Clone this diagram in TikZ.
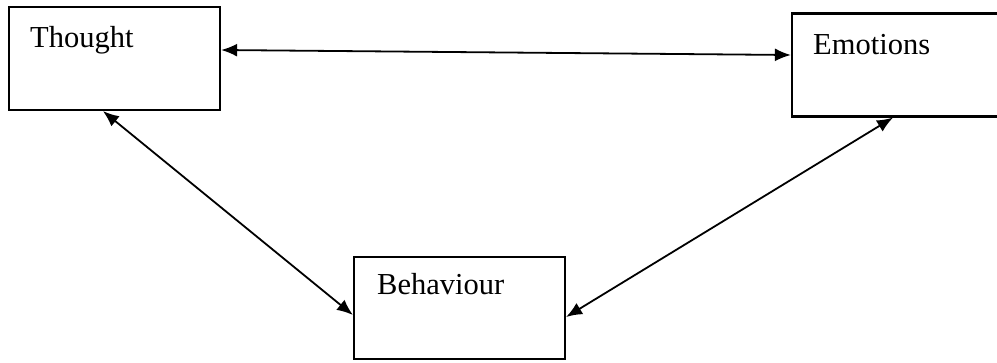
\documentclass[tikz,border=0pt]{standalone}
\usepackage{fontspec}
\setmainfont{Liberation Serif}
\usetikzlibrary{arrows.meta}
\begin{document}
\begin{tikzpicture}[x=1pt,y=1pt,
  box/.style={draw, line width=2.2pt, rectangle, inner sep=0pt,
    minimum width=211pt, minimum height=103pt},
  lbl/.style={anchor=base west, inner sep=0pt, font=\fontsize{30.5}{36}\selectfont},
  link/.style={line width=1.8pt, {Latex[length=16pt,width=13pt]}-{Latex[length=16pt,width=13pt]}}]
  \clip (0,0) rectangle (997,362);
  \useasboundingbox (0,0) rectangle (997,362);

  % the three boxes
  \node[box] (thought) at (114.5,303.5) {};
  \node[box] (emotions) at (897.5,297) {};
  \node[box, minimum height=102pt] (behaviour) at (459.5,54) {};

  % their captions, set in the upper left of each box
  \node[lbl] (tthought) at (30,314) {Thought};
  \node[lbl] (temotions) at (813,307) {Emotions};
  \node[lbl] (tbehaviour) at (377,67) {Behaviour};

  % two-way links
  \draw[link] ([yshift=8.5pt]thought.east) -- ([yshift=10pt]emotions.west);
  \draw[link] ([xshift=-11.5pt]thought.south) -- ([yshift=-7pt]behaviour.west);
  \draw[link] ([xshift=-4.5pt]emotions.south) -- ([yshift=-9pt]behaviour.east);
\end{tikzpicture}
\end{document}
